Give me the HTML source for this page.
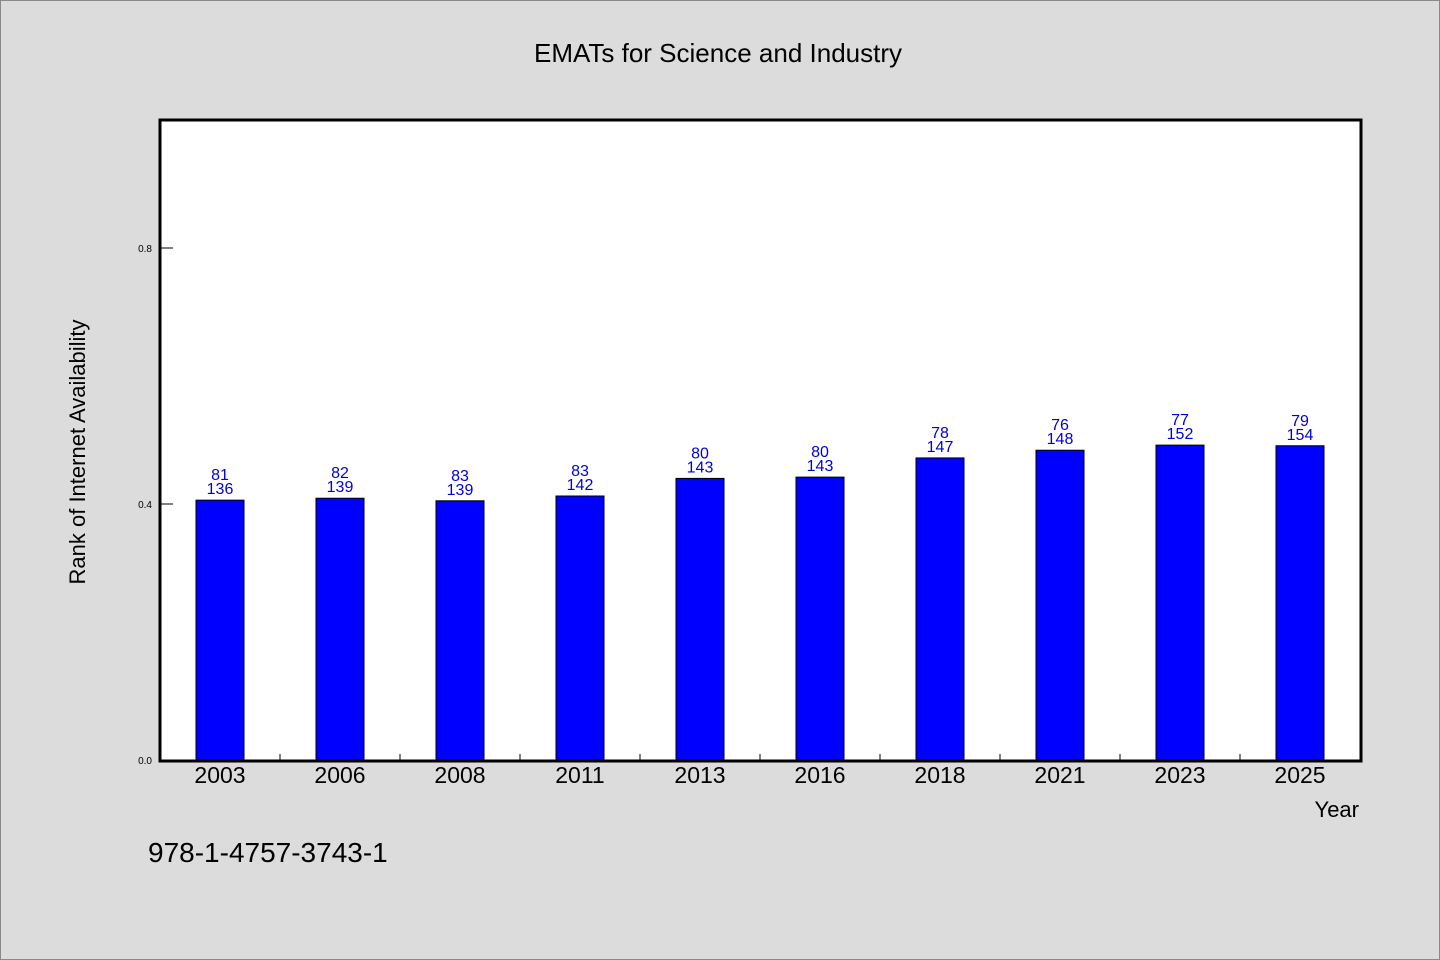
<!DOCTYPE html>
<html><head><meta charset="utf-8"><style>
html,body{margin:0;padding:0;background:#dcdcdc;}
svg{display:block;font-family:"WenQuanYi Zen Hei","Liberation Sans",sans-serif;}
</style></head><body>
<svg id="chart" width="1440" height="960" xmlns="http://www.w3.org/2000/svg">
<rect x="0.5" y="0.5" width="1439" height="959" fill="#dcdcdc" stroke="#888"/>
<text x="718" y="62" text-anchor="middle" font-size="26" fill="#000">EMATs for Science and Industry</text>
<rect x="160" y="120" width="1201" height="641" fill="#fff"/>
<g id="marks"></g>
<rect x="160" y="120" width="1201" height="641" fill="none" stroke="#000" stroke-width="3"/>
<text transform="translate(85,452) rotate(-90)" text-anchor="middle" font-size="22">Rank of Internet Availability</text>
<text x="1359" y="817" text-anchor="end" font-size="22">Year</text>
<text x="148" y="862" font-size="28">978-1-4757-3743-1</text>
</svg>
<script>
const categories=["2003","2006","2008","2011","2013","2016","2018","2021","2023","2025"];
const values=[0.406,0.409,0.405,0.4125,0.44,0.442,0.472,0.484,0.492,0.491];
const labelTop=["81","82","83","83","80","80","78","76","77","79"];
const labelBottom=["136","139","139","142","143","143","147","148","152","154"];
const yTicks=[0.0,0.4,0.8];
const yTickLabels=["0.0","0.4","0.8"];
const NS="http://www.w3.org/2000/svg";
const L=160,R=1360,T=120,B=760,yMax=1.0;
const band=(R-L)/categories.length;
const x=i=>L+band*i+band/2;
const y=v=>B-(v/yMax)*(B-T);
const g=document.getElementById('marks');
function mk(tag,attrs,txt){const e=document.createElementNS(NS,tag);for(const k in attrs)e.setAttribute(k,attrs[k]);if(txt!==undefined)e.textContent=txt;g.appendChild(e);return e;}
yTicks.forEach((t,i)=>{
 const ln=mk('line',{x1:L,x2:L+13,y1:y(t),y2:y(t),stroke:'#000','stroke-width':1});
 
 
 const tx=mk('text',{x:L-8,y:y(t)+4,'text-anchor':'end','font-size':10},yTickLabels[i]);
 
 
});
categories.forEach((c,i)=>{
 if(i>0){const tk=mk('line',{x1:L+band*i,x2:L+band*i,y1:B,y2:B-6,stroke:'#000','stroke-width':1});
 
 }
 const bw=48;
 const r=mk('rect',{x:x(i)-bw/2,y:y(values[i]),width:bw,height:B-y(values[i]),fill:'#0000ff',stroke:'#000','stroke-width':1});
 
 
 const a=mk('text',{x:x(i),y:y(values[i])-20,'text-anchor':'middle','font-size':16,fill:'#0000dd'},labelTop[i]);
 
 
 const b=mk('text',{x:x(i),y:y(values[i])-6,'text-anchor':'middle','font-size':16,fill:'#0000dd'},labelBottom[i]);
 
 
 const xl=mk('text',{x:x(i),y:B+23,'text-anchor':'middle','font-size':23},c);
 
 
});
</script>
</body></html>
